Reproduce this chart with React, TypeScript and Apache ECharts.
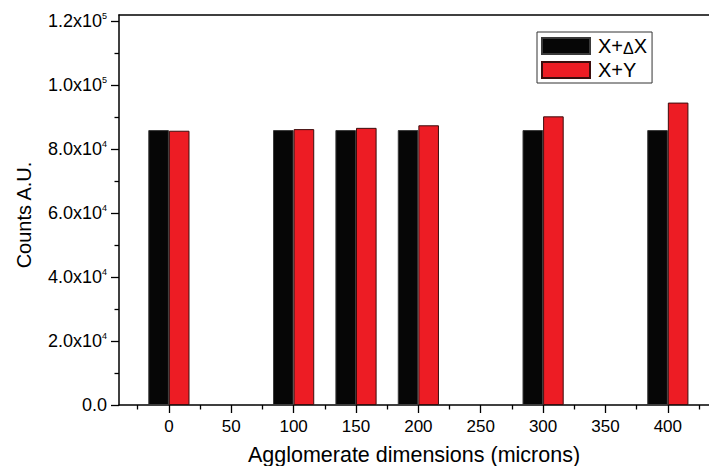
import React, { useEffect, useRef } from 'react';
import * as echarts from 'echarts';

const categories = [0, 100, 150, 200, 300, 400];
const seriesXdX = [86000, 86000, 86000, 86000, 86000, 86000];
const seriesXY = [85800, 86300, 86700, 87500, 90300, 94600];
const xMajorTicks = [0, 50, 100, 150, 200, 250, 300, 350, 400];
const xMinorTicks = [-25, 25, 75, 125, 175, 225, 275, 325, 375, 425];
const yMajorTicks = [0, 20000, 40000, 60000, 80000, 100000, 120000];
const yMinorTicks = [10000, 30000, 50000, 70000, 90000, 110000];
const seriesNames = ['X+ΔX', 'X+Y'];

const FONT = '"Liberation Sans", Arial, Helvetica, sans-serif';

function sciLabel(v: number): string {
  if (v === 0) return '{m|0.0}';
  const e = Math.floor(Math.log10(v) + 1e-9);
  const m = (v / Math.pow(10, e)).toFixed(1);
  return `{m|${m}x10}{s|${e}}`;
}

export default function App() {
  const ref = useRef<HTMLDivElement>(null);
  useEffect(() => {
    if (!ref.current) return;
    const chart = echarts.init(ref.current, undefined, { renderer: 'svg' });
    const X_MIN = -40;
    const X_MAX = 433;
    const Y_MIN = 0;
    const Y_MAX = 122000;
    const axisLineStyle = { color: '#000', width: 1.5 };
    chart.setOption({
      animation: false,
      backgroundColor: '#fff',
      textStyle: { fontFamily: FONT },
      grid: { left: 119, right: 0, top: 15, bottom: 61, containLabel: false, outerBoundsMode: 'none' },
      legend: {
        show: true,
        data: seriesNames,
        orient: 'vertical',
        left: 537,
        top: 32,
        padding: [4, 5, 3, 4],
        itemGap: 4,
        itemWidth: 48,
        itemHeight: 16,
        icon: 'rect',
        borderColor: '#333',
        borderWidth: 1,
        backgroundColor: '#fff',
        formatter: (name: string) =>
          name === 'X+ΔX' ? '{a|X+}{d|Δ}{b|X}' : '{a|X+Y}',
        textStyle: {
          color: '#000',
          fontFamily: FONT,
          fontSize: 20,
          rich: {
            a: { fontSize: 20, lineHeight: 20, padding: [0, 0, 0, 3], color: '#000', fontFamily: FONT },
            b: { fontSize: 20, lineHeight: 20, color: '#000', fontFamily: FONT },
            d: { fontSize: 16, lineHeight: 17, verticalAlign: 'bottom', color: '#000', fontFamily: FONT },
          },
        },
      },
      xAxis: [
        {
          type: 'value',
          position: 'bottom',
          min: X_MIN,
          max: X_MAX,
          name: 'Agglomerate dimensions (microns)',
          nameLocation: 'middle',
          nameGap: 39,
          nameTextStyle: { fontSize: 21.5, color: '#000', fontFamily: FONT },
          axisLine: { show: true, onZero: false, lineStyle: axisLineStyle },
          axisTick: { show: true, inside: false, length: 8, customValues: xMajorTicks, lineStyle: { color: '#000', width: 1.3 } },
          axisLabel: { show: true, customValues: xMajorTicks, margin: 13, fontSize: 17, color: '#000', fontFamily: FONT },
          splitLine: { show: false },
        },
        {
          type: 'value',
          position: 'bottom',
          min: X_MIN,
          max: X_MAX,
          axisLine: { show: false, onZero: false },
          axisTick: { show: true, inside: false, length: 4.5, customValues: xMinorTicks, lineStyle: { color: '#000', width: 1.3 } },
          axisLabel: { show: false },
          splitLine: { show: false },
        },
        {
          type: 'value',
          position: 'top',
          min: X_MIN,
          max: X_MAX,
          axisLine: { show: true, onZero: false, lineStyle: axisLineStyle },
          axisTick: { show: false },
          axisLabel: { show: false },
          splitLine: { show: false },
        },
      ],
      yAxis: [
        {
          type: 'value',
          position: 'left',
          min: Y_MIN,
          max: Y_MAX,
          name: 'Counts A.U.',
          nameLocation: 'middle',
          nameGap: 85,
          nameTextStyle: { fontSize: 20, color: '#000', fontFamily: FONT, padding: [0, 10, 0, 0] },
          axisLine: { show: true, onZero: false, lineStyle: axisLineStyle },
          axisTick: { show: true, inside: false, length: 8, customValues: yMajorTicks, lineStyle: { color: '#000', width: 1.3 } },
          axisLabel: {
            show: true,
            customValues: yMajorTicks,
            margin: 12,
            formatter: (v: number) => sciLabel(v),
            rich: {
              m: { fontSize: 18, lineHeight: 20, color: '#000', fontFamily: FONT },
              s: { fontSize: 9, lineHeight: 9, verticalAlign: 'top', color: '#000', fontFamily: FONT },
            },
          },
          splitLine: { show: false },
        },
        {
          type: 'value',
          position: 'left',
          min: Y_MIN,
          max: Y_MAX,
          axisLine: { show: false, onZero: false },
          axisTick: { show: true, inside: false, length: 4.5, customValues: yMinorTicks, lineStyle: { color: '#000', width: 1.3 } },
          axisLabel: { show: false },
          splitLine: { show: false },
        },
      ],
      series: [
        {
          type: 'bar',
          name: seriesNames[0],
          xAxisIndex: 0,
          yAxisIndex: 0,
          data: categories.map((c, i) => [c, seriesXdX[i]]),
          barWidth: 20.6,
          barGap: '0%',
          itemStyle: { color: '#060606', borderColor: '#3a3a3a', borderWidth: 1 },
        },
        {
          type: 'bar',
          name: seriesNames[1],
          xAxisIndex: 0,
          yAxisIndex: 0,
          data: categories.map((c, i) => [c, seriesXY[i]]),
          barWidth: 20.6,
          barGap: '0%',
          itemStyle: { color: '#ed1c24', borderColor: '#3b0d0d', borderWidth: 1 },
        },
      ],
    });
    return () => chart.dispose();
  }, []);
  return (
    <div
      ref={ref}
      style={{ position: 'fixed', left: 0, top: 0, width: 709, height: 466, background: '#fff' }}
    />
  );
}
